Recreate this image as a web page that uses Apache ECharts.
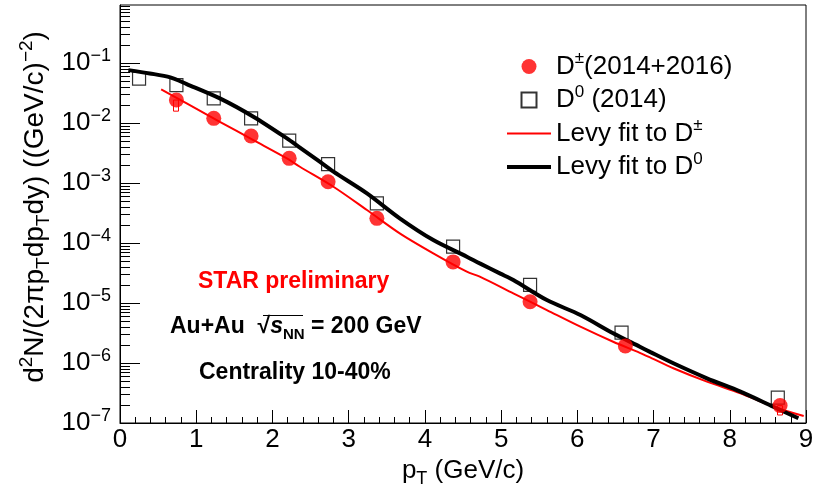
<!DOCTYPE html>
<html><head><meta charset="utf-8">
<script src="https://cdn.jsdelivr.net/npm/echarts@6/dist/echarts.min.js"></script>
<style>html,body{margin:0;padding:0;background:#fff}#c{width:818px;height:498px}</style>
</head><body><div id="c"></div>
<script>
// ---- data ----
const dpmPt  = [0.74, 1.23, 1.72, 2.22, 2.73, 3.37, 4.37, 5.38, 6.63, 8.66];
const dpmVal = [0.0242, 0.012, 0.0061, 0.00258, 0.00105, 2.58e-4, 4.85e-5, 1.05e-5, 1.93e-6, 1.95e-7];
const dpmSysLow = [0.0158, null, null, null, null, null, null, null, null, 1.36e-7];

const d0Pt  = [0.25, 0.74, 1.23, 1.72, 2.22, 2.73, 3.37, 4.37, 5.38, 6.58, 8.63];
const d0Val = [0.055, 0.043, 0.0258, 0.012, 0.00508, 0.00207, 4.6e-4, 8.7e-5, 2.0e-5, 3.2e-6, 2.64e-7];

const levyD0Pt  = [0.11,0.39,0.66,0.875,1.31,1.75,2.19,2.36,2.62,2.8,3.24,3.67,4.11,4.55,4.72,4.99,5.16,5.6,6.04,6.47,6.82,6.96,7.26,7.7,8.14,8.57,8.9];
const levyD0Val = [0.0764,0.0673,0.0578,0.0447,0.0258,0.01276,0.00555,0.00389,0.00227,0.00155,6.73e-4,2.58e-4,1.12e-4,5.92e-5,4.58e-5,3.09e-5,2.42e-5,1.12e-5,6.31e-6,3.13e-6,1.87e-6,1.52e-6,9.89e-7,5.56e-7,3.33e-7,1.87e-7,1.20e-7];

const levyDpmPt  = [0.54,0.875,1.31,1.75,2.19,2.36,2.8,3.24,3.67,4.11,4.55,4.72,5.16,5.6,6.04,6.47,6.82,6.96,7.26,7.7,8.14,8.57,8.97];
const levyDpmVal = [0.0364,0.0213,0.01052,0.00521,0.00258,0.00187,8.67e-4,3.55e-4,1.45e-4,6.73e-5,3.33e-5,2.75e-5,1.45e-5,7.64e-6,4.03e-6,2.26e-6,1.48e-6,1.23e-6,8.17e-7,4.89e-7,3.13e-7,1.87e-7,1.31e-7];

const xTicks = [0,1,2,3,4,5,6,7,8,9];
const yDecades = [-7,-6,-5,-4,-3,-2,-1];

const N_DPM = 'D±(2014+2016)';
const N_D0 = 'D0 (2014)';
const N_LDPM = 'Levy fit to D±';
const N_LD0 = 'Levy fit to D0';
const legendRich = {};
legendRich[N_DPM] = 'D{sup|±}(2014+2016)';
legendRich[N_D0] = 'D{sup|0} (2014)';
legendRich[N_LDPM] = 'Levy fit to D{sup|±}';
legendRich[N_LD0] = 'Levy fit to D{sup|0}';
const yTitle = 'd{sup|2}N/(2πp{sub|T}dp{sub|T}dy) ((GeV/c){sup|−2})';
const xTitle = 'p{sub|T} (GeV/c)';

// ---- build ----
const FONT = '"Liberation Sans", Arial, Helvetica, sans-serif';
const pairs = (xs, ys) => xs.map((x, i) => [x, ys[i]]);

const yTickData = [];
yDecades.forEach(e => {
  yTickData.push([0, Math.pow(10, e), 1]);
  for (let m = 2; m <= 9; m++) yTickData.push([0, m * Math.pow(10, e), 0]);
});
const sysData = [];
dpmPt.forEach((x, i) => { if (dpmSysLow[i] != null) sysData.push([x, dpmVal[i], dpmSysLow[i]]); });

const chart = echarts.init(document.getElementById('c'), null, {renderer: 'canvas'});
const hideSym = {color: 'transparent', opacity: 0, borderWidth: 0};
const option = {
  animation: false,
  backgroundColor: '#fff',
  textStyle: {fontFamily: FONT},
  grid: {left: 120, right: 12, top: 5, bottom: 75, show: true, borderColor: '#000', borderWidth: 1, backgroundColor: 'transparent', containLabel: false, outerBoundsMode: 'none'},
  legend: {
    orient: 'vertical', left: 500, top: 45, itemWidth: 44, itemHeight: 15, itemGap: 1,
    symbolKeepAspect: true,
    data: [
      {name: N_DPM, icon: 'circle'},
      {name: N_D0, icon: 'path://M0,0H10V10H0Z'},
      {name: N_LDPM, itemStyle: hideSym, lineStyle: {color: '#ff0000', width: 2}},
      {name: N_LD0, itemStyle: hideSym, lineStyle: {color: '#000', width: 4}}
    ],
    formatter: n => legendRich[n],
    textStyle: {fontSize: 26, fontFamily: FONT, color: '#000', lineHeight: 32,
      rich: {sup: {fontSize: 17, fontFamily: FONT, color: '#000', padding: [0, 0, 16, 0]}}},
    selectedMode: false
  },
  xAxis: {
    type: 'value', min: xTicks[0], max: xTicks[xTicks.length - 1], interval: 1,
    name: xTitle, nameLocation: 'middle', nameGap: 26,
    nameTextStyle: {fontSize: 26, fontFamily: FONT, color: '#000',
      rich: {sub: {fontSize: 18, fontFamily: FONT, color: '#000', padding: [16, 0, 0, 0]}}},
    axisLine: {show: true, lineStyle: {color: '#000', width: 1}},
    axisTick: {show: true, inside: true, length: 13, lineStyle: {color: '#000', width: 1}},
    minorTick: {show: true, splitNumber: 5, length: 6, lineStyle: {color: '#000', width: 1}},
    axisLabel: {fontSize: 26, fontFamily: FONT, color: '#000', margin: 4},
    splitLine: {show: false}, minorSplitLine: {show: false}
  },
  yAxis: {
    type: 'log', logBase: 10, min: 1e-7, max: 0.93,
    axisLine: {show: true, lineStyle: {color: '#000', width: 1}},
    axisTick: {show: false},
    minorTick: {show: false},
    axisLabel: {
      margin: 9, color: '#000',
      formatter: v => {
        const e = Math.log10(v), r = Math.round(e);
        if (Math.abs(e - r) > 1e-6 || r > -1 || r < -7) return '';
        return '{b|10}{s|' + (r < 0 ? '−' : '') + Math.abs(r) + '}';
      },
      rich: {
        b: {fontSize: 26, fontFamily: FONT, color: '#000'},
        s: {fontSize: 18, fontFamily: FONT, color: '#000', padding: [0, 0, 14, 0]}
      }
    },
    splitLine: {show: false}, minorSplitLine: {show: false}
  },
  series: [
    {
      type: 'custom', name: 'yticks', silent: true, z: 6, data: yTickData, encode: {x: 0, y: 1},
      renderItem: (params, api) => {
        const p = api.coord([0, api.value(1)]);
        const len = api.value(2) ? 20 : 10;
        const y = Math.round(p[1]) + 0.5;
        return {type: 'line', shape: {x1: p[0], y1: y, x2: p[0] + len, y2: y}, style: {stroke: '#000', lineWidth: 1}};
      }
    },
    {
      type: 'scatter', name: N_D0, data: pairs(d0Pt, d0Val), symbol: 'rect', symbolSize: 13, z: 2,
      itemStyle: {color: 'transparent', borderColor: '#000', borderWidth: 1.2}
    },
    {
      type: 'custom', name: 'sys', silent: true, z: 3, data: sysData, encode: {x: 0, y: [1, 2]},
      renderItem: (params, api) => {
        const t = api.coord([api.value(0), api.value(1)]);
        const b = api.coord([api.value(0), api.value(2)]);
        const x = Math.round(t[0]) - 2.5;
        return {type: 'rect', shape: {x: x, y: t[1], width: 5, height: b[1] - t[1]},
          style: {stroke: '#ff0000', fill: 'none', lineWidth: 1}};
      }
    },
    {
      type: 'line', name: N_LDPM, data: pairs(levyDpmPt, levyDpmVal), symbol: 'none', showSymbol: false,
      smooth: 0.3, z: 3, lineStyle: {color: '#ff0000', width: 2}, itemStyle: {color: '#ff0000'}
    },
    {
      type: 'line', name: N_LD0, data: pairs(levyD0Pt, levyD0Val), symbol: 'none', showSymbol: false,
      smooth: 0.3, z: 3, lineStyle: {color: '#000', width: 4}, itemStyle: {color: '#000'}
    },
    {
      type: 'scatter', name: N_DPM, data: pairs(dpmPt, dpmVal), symbol: 'circle', symbolSize: 15, z: 4,
      itemStyle: {color: '#ff0000'}
    }
  ],
  graphic: [
    {type: 'text', x: 35, y: 207, rotation: Math.PI / 2, z: 10, style: {
      text: yTitle, fill: '#000', fontSize: 28, fontFamily: FONT, align: 'center', verticalAlign: 'middle',
      rich: {
        sup: {fontSize: 19, fontFamily: FONT, fill: '#000', padding: [0, 0, 16, 0]},
        sub: {fontSize: 19, fontFamily: FONT, fill: '#000', padding: [18, 0, 0, 0]}
      }}},
    {type: 'text', x: 198, y: 282, z: 10, style: {text: 'STAR preliminary', fill: '#ff0000',
      fontSize: 23, fontWeight: 'bold', fontFamily: FONT, verticalAlign: 'middle', align: 'left'}},
    {type: 'text', x: 170, y: 327, z: 10, style: {
      text: 'Au+Au  √{s|s}{sub|NN} = 200 GeV', fill: '#000', fontSize: 23, fontWeight: 'bold', fontFamily: FONT,
      verticalAlign: 'middle', align: 'left',
      rich: {
        s: {fontSize: 23, fontWeight: 'bold', fontStyle: 'italic', fontFamily: FONT, fill: '#000'},
        sub: {fontSize: 15, fontWeight: 'bold', fontFamily: FONT, fill: '#000', padding: [16, 0, 0, 0]}
      }}},
    {type: 'line', z: 10, shape: {x1: 263, y1: 315.5, x2: 303, y2: 315.5}, style: {stroke: '#000', lineWidth: 1.2}},
    {type: 'text', x: 199, y: 373, z: 10, style: {text: 'Centrality 10-40%', fill: '#000',
      fontSize: 23, fontWeight: 'bold', fontFamily: FONT, verticalAlign: 'middle', align: 'left'}}
  ]
};
chart.setOption(option);
</script>
</body></html>
